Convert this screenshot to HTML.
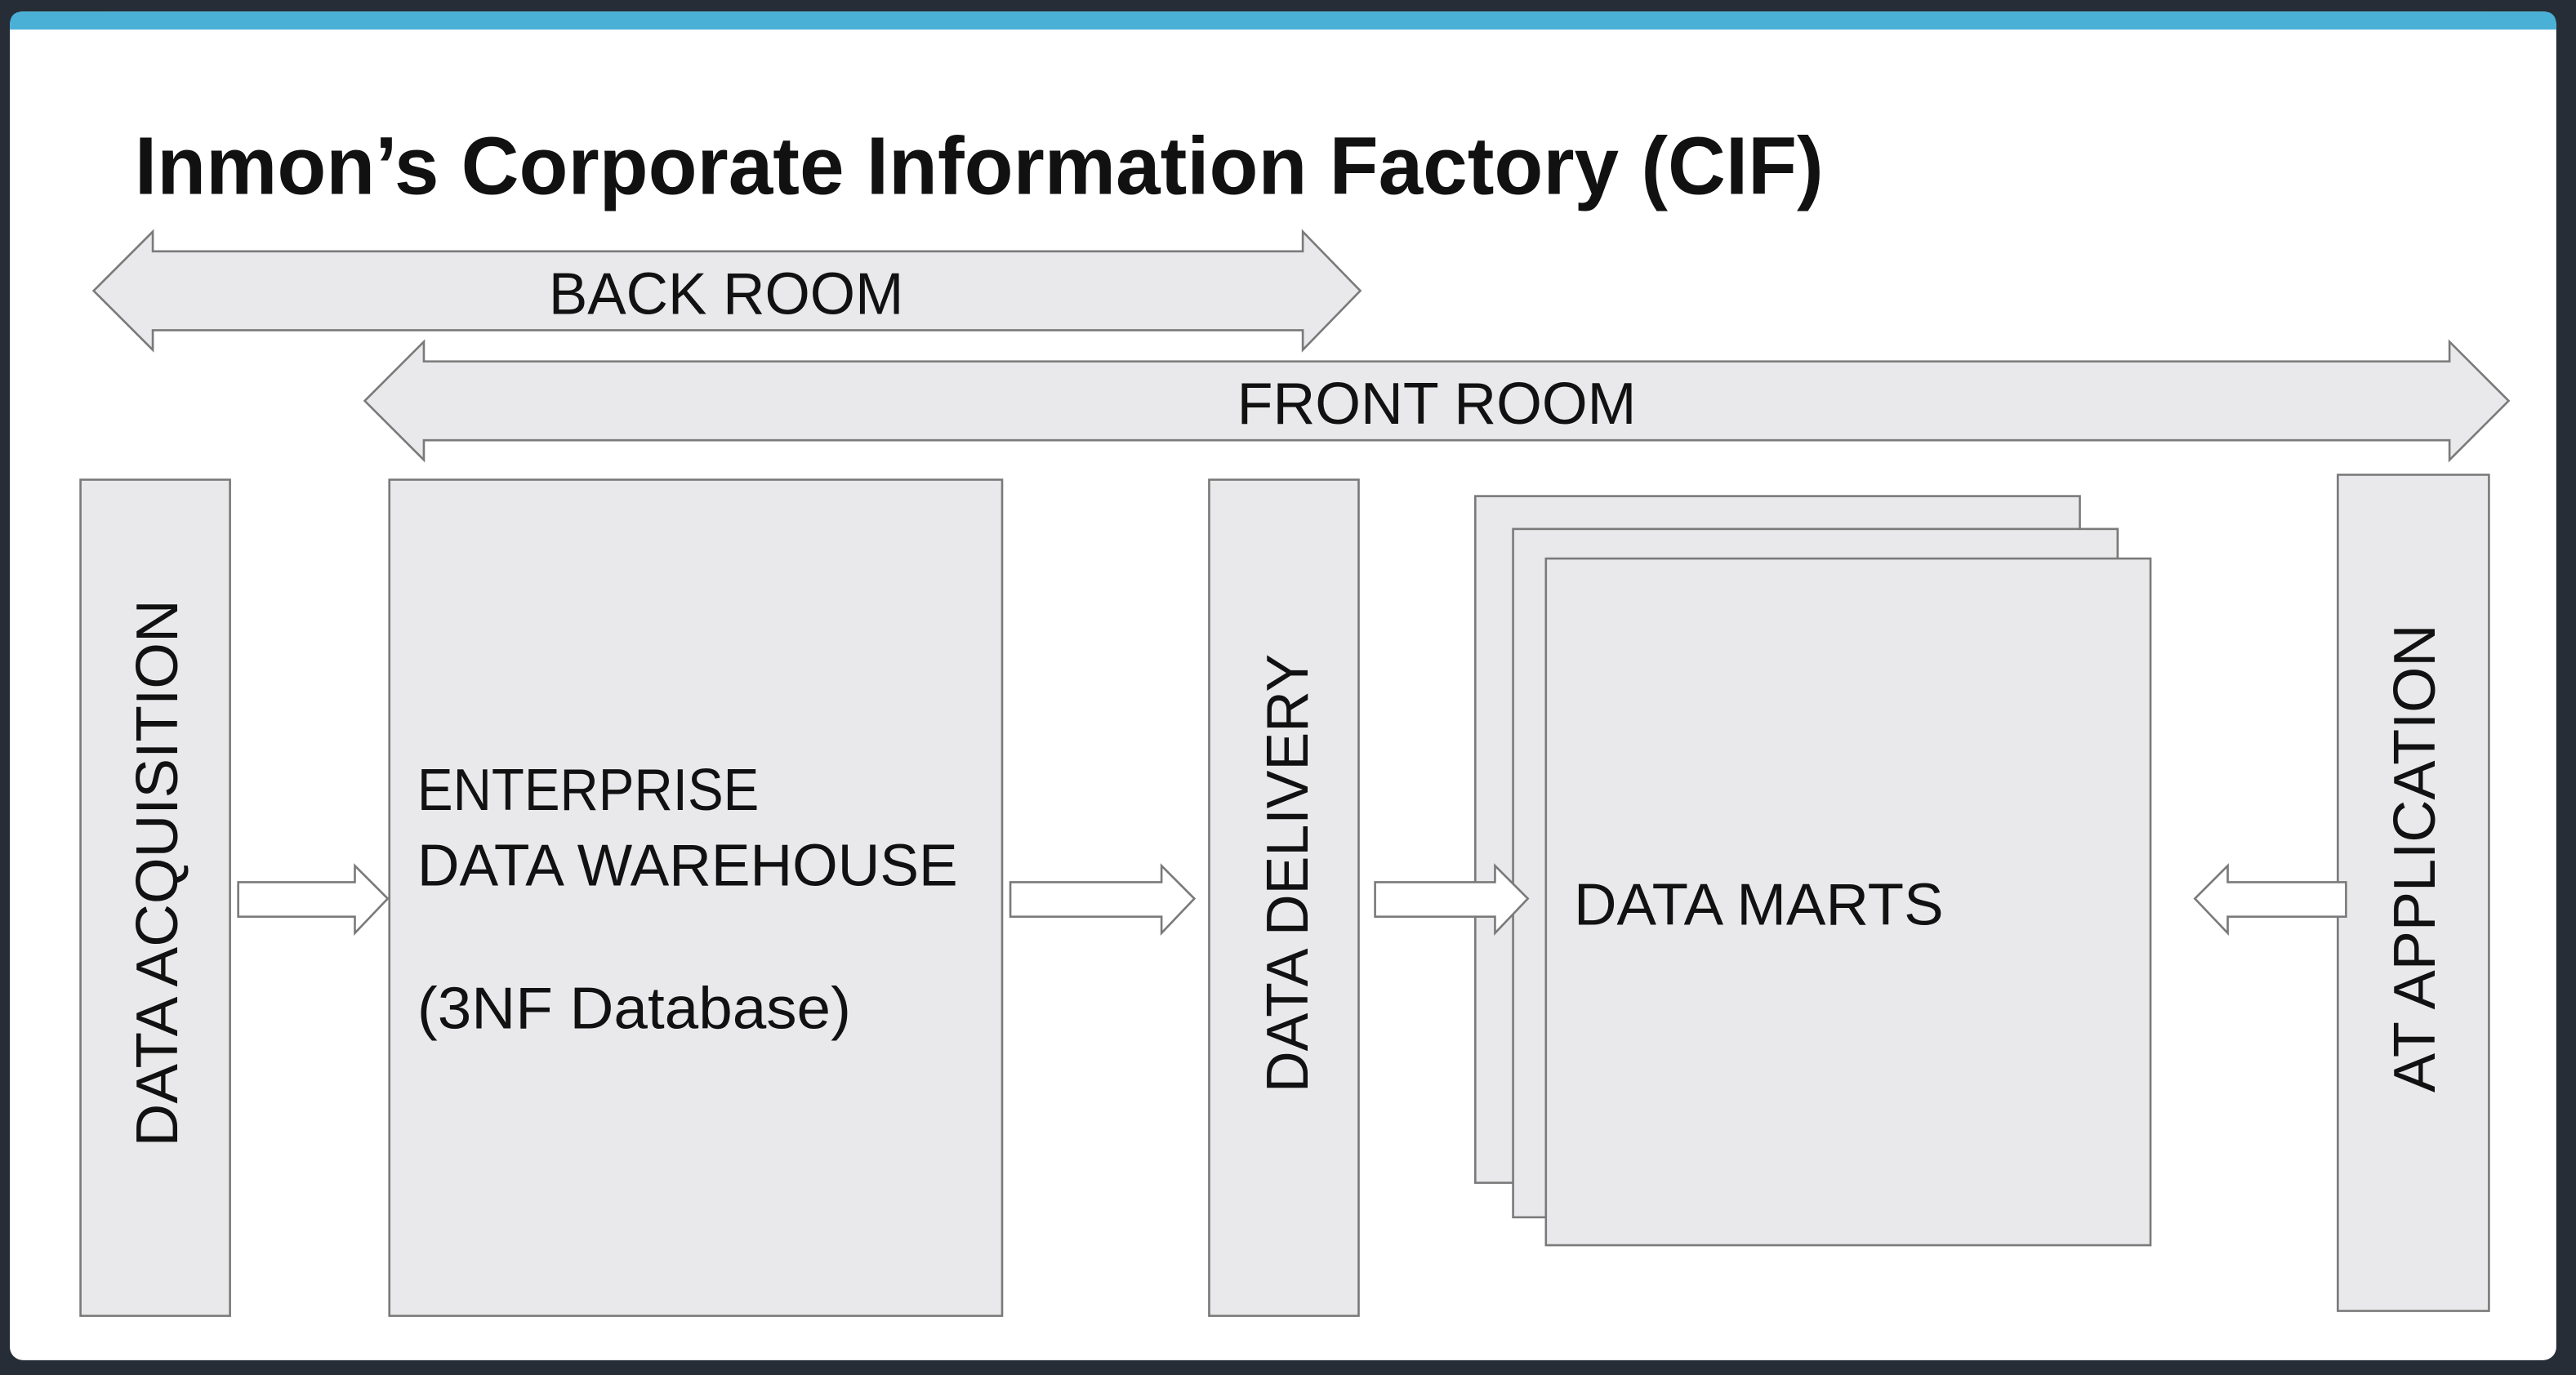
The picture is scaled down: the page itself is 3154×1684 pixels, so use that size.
<!DOCTYPE html>
<html><head><meta charset="utf-8"><style>
html,body{margin:0;padding:0;background:#262d37;}
svg{display:block;}
text{font-family:"Liberation Sans",sans-serif;fill:#111;}
</style></head><body>
<svg width="3154" height="1684" viewBox="0 0 1568 837" preserveAspectRatio="none" xmlns="http://www.w3.org/2000/svg">
<rect x="0" y="0" width="1568" height="837" fill="#262d37"/>
<rect x="6" y="7" width="1550" height="821" rx="8" fill="#ffffff"/>
<path d="M6,18 L6,15 Q6,7 14,7 L1548,7 Q1556,7 1556,15 L1556,18 Z" fill="#4ab0d6"/>
<text x="82" y="118" font-size="50" font-weight="bold" textLength="1028" lengthAdjust="spacingAndGlyphs">Inmon’s Corporate Information Factory (CIF)</text>
<g fill="#e9e8ea" stroke="#7a7a7a" stroke-width="1.3">
<polygon points="57,177 93,141 93,153 793,153 793,141 828,177 793,213 793,201 93,201 93,213"/>
<polygon points="222,244 258,208 258,220 1491,220 1491,208 1527,244 1491,280 1491,268 258,268 258,280"/>
<rect x="49" y="292" width="91" height="509"/>
<rect x="237" y="292" width="373" height="509"/>
<rect x="736" y="292" width="91" height="509"/>
<rect x="898" y="302" width="368" height="418"/>
<rect x="921" y="322" width="368" height="419"/>
<rect x="941" y="340" width="368" height="418"/>
<rect x="1423" y="289" width="92" height="509"/>
</g>
<g fill="#ffffff" stroke="#7a7a7a" stroke-width="1.3">
<polygon points="145,537 216,537 216,527 236,547 216,568 216,558 145,558"/>
<polygon points="615,537 707,537 707,527 727,547 707,568 707,558 615,558"/>
<polygon points="837,537 910,537 910,527 930,547 910,568 910,558 837,558"/>
<polygon points="1428,537 1356,537 1356,527 1336,547 1356,568 1356,558 1428,558"/>
</g>
<text x="334" y="191" font-size="36" textLength="216" lengthAdjust="spacingAndGlyphs">BACK ROOM</text>
<text x="753" y="258" font-size="36" textLength="243" lengthAdjust="spacingAndGlyphs">FRONT ROOM</text>
<text x="254" y="493" font-size="36" textLength="208" lengthAdjust="spacingAndGlyphs">ENTERPRISE</text>
<text x="254" y="539" font-size="36" textLength="329" lengthAdjust="spacingAndGlyphs">DATA WAREHOUSE</text>
<text x="254" y="626" font-size="36" textLength="264" lengthAdjust="spacingAndGlyphs">(3NF Database)</text>
<text x="958" y="563" font-size="36" textLength="225" lengthAdjust="spacingAndGlyphs">DATA MARTS</text>
<text transform="translate(108,698) rotate(-90)" font-size="36" textLength="333" lengthAdjust="spacingAndGlyphs">DATA ACQUISITION</text>
<text transform="translate(796,665) rotate(-90)" font-size="36" textLength="267" lengthAdjust="spacingAndGlyphs">DATA DELIVERY</text>
<text transform="translate(1482,665) rotate(-90)" font-size="36" textLength="285" lengthAdjust="spacingAndGlyphs">AT APPLICATION</text>
</svg>
</body></html>
